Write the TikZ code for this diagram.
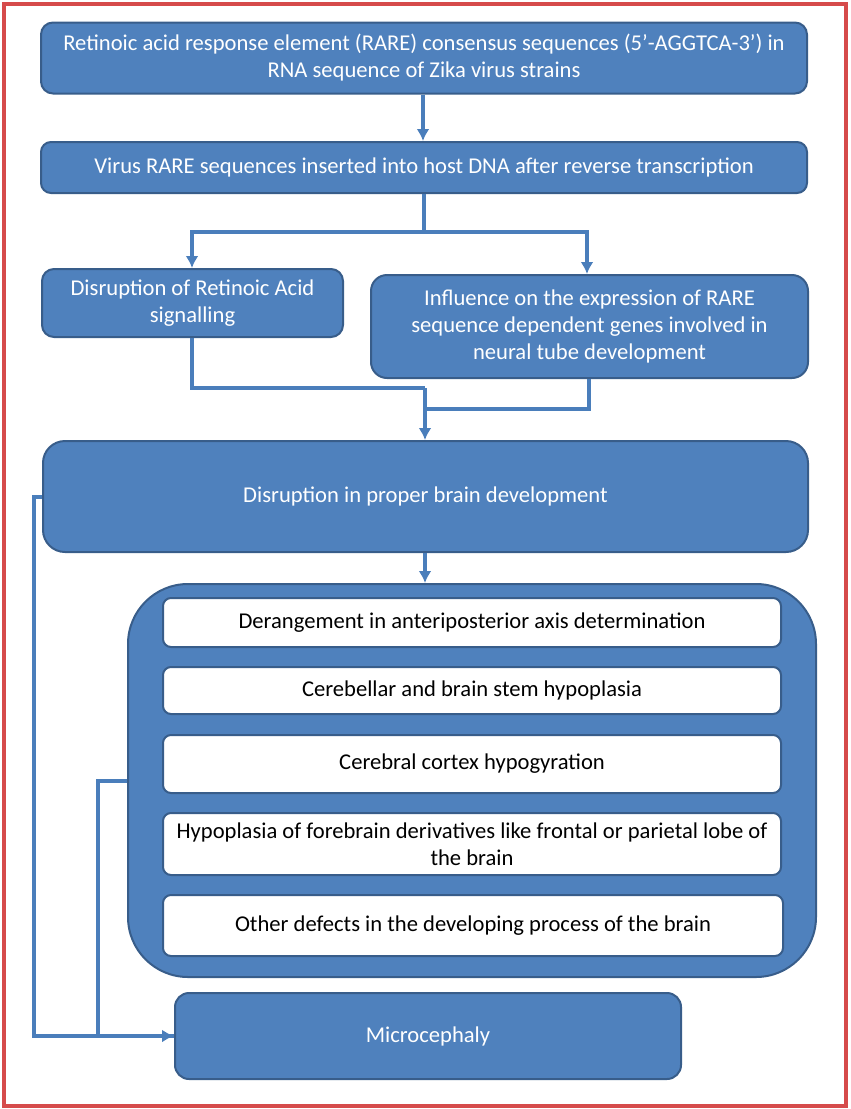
\documentclass[tikz,border=0pt]{standalone}
\usepackage{fontspec}
\setmainfont{Carlito}
\usetikzlibrary{arrows.meta}
\definecolor{boxblue}{HTML}{4F81BD}
\definecolor{boxedge}{HTML}{385D8A}
\definecolor{linkblue}{HTML}{4A7EBB}
\definecolor{frame}{HTML}{D64B4B}
\tikzset{
  bluebox/.style={draw=boxedge, line width=2pt, fill=boxblue, text=white, align=center,
    inner sep=0pt, font=\fontsize{22.6}{27}\selectfont},
  whitebox/.style={draw=boxedge, line width=2pt, fill=white, text=black, align=center,
    inner sep=0pt, rounded corners=8pt, font=\fontsize{22.6}{27}\selectfont},
  link/.style={draw=linkblue, line width=3.6pt},
  arr/.style={link, -{Latex[length=12pt,width=13pt]}}
}
\begin{document}
\begin{tikzpicture}[x=1pt,y=-1pt]
\useasboundingbox (0,0) rectangle (851,1109);
\draw[frame, line width=3.5pt] (4,4) rectangle (846,1106);

\node[bluebox, rounded corners=12pt, minimum width=766pt, minimum height=71pt] (b1) at (424,58)
  {Retinoic acid response element (RARE) consensus sequences (5’-AGGTCA-3’) in\\RNA sequence of Zika virus strains};
\node[bluebox, rounded corners=10pt, minimum width=766pt, minimum height=51pt] (b2) at (424,167.5)
  {Virus RARE sequences inserted into host DNA after reverse transcription};
\node[bluebox, rounded corners=12pt, minimum width=301pt, minimum height=68pt] (b3) at (192.5,303)
  {Disruption of Retinoic Acid\\signalling};
\node[bluebox, rounded corners=16pt, minimum width=437pt, minimum height=103pt] (b4) at (589.5,326.5)
  {Influence on the expression of RARE\\sequence dependent genes involved in\\neural tube development};
\node[bluebox, rounded corners=22pt, minimum width=765pt, minimum height=111pt] (b5) at (425.5,496.5)
  {Disruption in proper brain development};
\node[bluebox, rounded corners=60pt, minimum width=688pt, minimum height=393pt] (cont) at (472,780.5) {};
\node[whitebox, minimum width=618pt, minimum height=49pt] (w1) at (472,622.5)
  {Derangement in anteriposterior axis determination};
\node[whitebox, minimum width=618pt, minimum height=47pt] (w2) at (472,690.5)
  {Cerebellar and brain stem hypoplasia};
\node[whitebox, minimum width=618pt, minimum height=58pt] (w3) at (472,764)
  {Cerebral cortex hypogyration};
\node[whitebox, minimum width=618pt, minimum height=62pt] (w4) at (472,844)
  {Hypoplasia of forebrain derivatives like frontal or parietal lobe of\\the brain};
\node[whitebox, minimum width=620pt, minimum height=61pt] (w5) at (473,925.5)
  {Other defects in the developing process of the brain};
\node[bluebox, rounded corners=14pt, minimum width=506pt, minimum height=86pt] (mc) at (428,1036)
  {Microcephaly};

% connectors
\draw[arr] (b1.south -| 423,0) -- (b2.north -| 423,0);
\coordinate (split) at (424,232);
\draw[link] (b2.south -| split) -- (split);
\draw[arr] (split) -| (b3.north -| 192,0);
\draw[arr] (split) -| (b4.north -| 587,0);
\coordinate (m1) at (425,388);
\draw[link] (b3.south -| 192,0) |- (m1);
\draw[link] (b4.south -| 589,0) |- (425,409);
\draw[arr] (m1) -- (b5.north -| m1);
\draw[arr] (b5.south -| 425,0) -- (cont.north -| 425,0);
\coordinate (fb1) at (34,497);
\coordinate (fb2) at (98,781);
\draw[link] (b5.west |- fb1) -- (fb1) -- (34,1036) -- (mc.west) ;
\draw[arr] (98,1036) -- (mc.west);
\draw[link] (cont.west |- fb2) -- (fb2) -- (98,1036);
\end{tikzpicture}
\end{document}
